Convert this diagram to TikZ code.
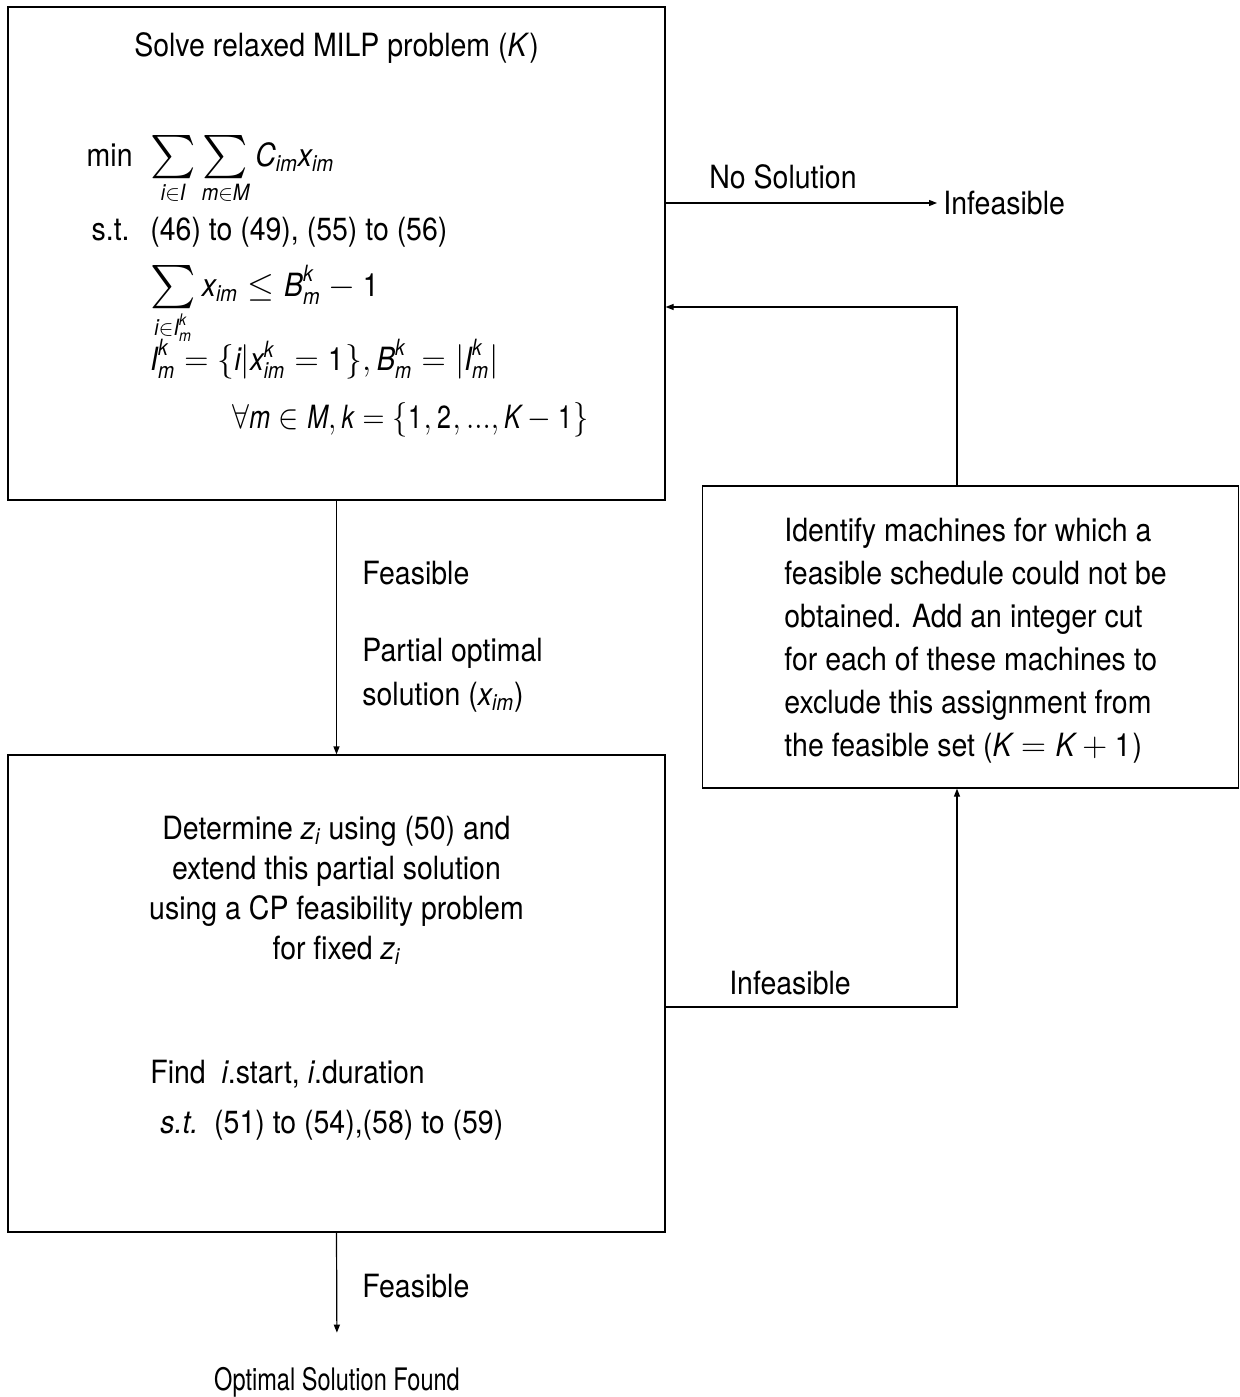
\documentclass[tikz,border=0pt]{standalone}
\usepackage{amsmath}
\usepackage{amssymb}
\usepackage{graphicx}
\usepackage{mathspec}
\setmainfont[FakeStretch=0.89]{TeX Gyre Heros}
\setmathsfont(Digits,Latin)[FakeStretch=0.89]{TeX Gyre Heros}
\usepackage{tikz}
\usetikzlibrary{arrows.meta, positioning}
\tikzset{>={Triangle[length=4pt,width=3pt]}}
\newcommand{\mi}[1]{\textit{#1}}
\newcommand{\xim}{\mi{x}_{\mi{im}}}
\newcommand{\Imk}{\mi{I}_{\mi{m}}^{\mi{k}}}
\newcommand{\Bmk}{\mi{B}_{\mi{m}}^{\mi{k}}}
\newcommand{\Sum}{\mathop{\vcenter{\hbox{\scalebox{1.35}{\(\sum\)}}}}\limits}

\begin{document}
\begin{tikzpicture}[x=0.5pt,y=-0.5pt,font=\fontsize{16}{21}\selectfont,
		box/.style={draw,line width=0.6pt,inner sep=0pt},
		flow/.style={->,line width=0.6pt},
		txt/.style={inner sep=0pt,anchor=base west},
		lbl/.style={inner sep=3pt}]
			\useasboundingbox (0,0) rectangle (1239,1397);
			\node [box,minimum width=328.5pt,minimum height=246.5pt] (milp) at (336.5,253.5) {};
			\node [box,minimum width=328.5pt,minimum height=238.5pt] (cp) at (336.5,993.5) {};
			\node [box,minimum width=268pt,minimum height=151pt] (cut) at (970.5,637) {};
			\node (title) at (336.5,48) {Solve relaxed MILP problem (\mi{K})};
			\node [txt,anchor=base east] (min) at (133,166) {min};
			\node [txt] (obj) at (150,166) {\( \Sum_{\mi{i}\in\mi{I}}\Sum_{\mi{m}\in\mi{M}} \mi{C}_{\mi{im}}\xim \)};
			\node [txt,anchor=base east] (st) at (130,240) {s.t.};
			\node [txt] (cons) at (150,240) {(46) to (49), (55) to (56)};
			\node [txt] (cutsum) at (150,296) {\( \Sum_{\mi{i}\in\Imk} \xim \le \Bmk - 1 \)};
			\node [txt] (iset) at (150,370) {\scalebox{0.97}[1]{\( \Imk = \{\mi{i}|\xim^{\mi{k}} = 1\}, \Bmk = |\Imk| \)}};
			\node [txt] (forall) at (232,428) {\scalebox{0.88}[1]{\( \forall \mi{m}\in \mi{M}, \mi{k} = \{1, 2, ..., \mi{K}-1\} \)}};
			\node [align=center,font=\fontsize{16}{20}\selectfont] (determine) at (336.5,890) {Determine \( \mi{z}_{\mi{i}} \) using (50) and\\ extend this partial solution\\ using a CP feasibility problem\\ for fixed \( \mi{z}_{\mi{i}} \)};
			\node [txt] (find) at (150,1083) {Find\ \ \mi{i}.start, \mi{i}.duration};
			\node [txt] (st2) at (160,1133) {\mi{s.t.}\ \ (51) to (54),(58) to (59)};
			\node [inner sep=0pt,anchor=north west,align=left,font=\fontsize{16}{21.5}\selectfont] (cuttext) at (784,518) {Identify machines for which a\\ feasible schedule could not be\\ obtained. Add an integer cut\\ for each of these machines to\\ exclude this assignment from\\ the feasible set (\( \mi{K} = \mi{K}+1 \))};
			\node [lbl] (nosol) at (783,177) {No Solution};
			\node [lbl,anchor=west] (infeas) at (937,203) {Infeasible};
			\node [lbl,anchor=west] (feas1) at (356,573) {Feasible};
			\node [lbl,anchor=west,align=left,font=\fontsize{16}{22}\selectfont] (partial) at (356,675) {Partial optimal\\ solution (\( \xim \))};
			\node [lbl] (infeas2) at (790,983) {Infeasible};
			\node [lbl,anchor=west] (feas2) at (356,1286) {Feasible};
			\node [lbl,font=\fontsize{15.5}{18}\selectfont\addfontfeatures{FakeStretch=0.76}] (opt) at (337,1382) {Optimal Solution Found};
			\coordinate (turn) at (957,307);
			\coordinate (back) at (957,1007);
			\draw [flow] (milp.east |- infeas) -- (infeas.west);
			\draw [flow] (milp.south) -- (cp.north);
			\draw [flow] (cut.north -| turn) -- (turn) -- (milp.east |- turn);
			\draw [flow] (cp.east |- back) -- (back) -- (cut.south -| back);
			\draw [flow,shorten >=14pt] (cp.south) -- (opt.north);
		\end{tikzpicture}
\end{document}
